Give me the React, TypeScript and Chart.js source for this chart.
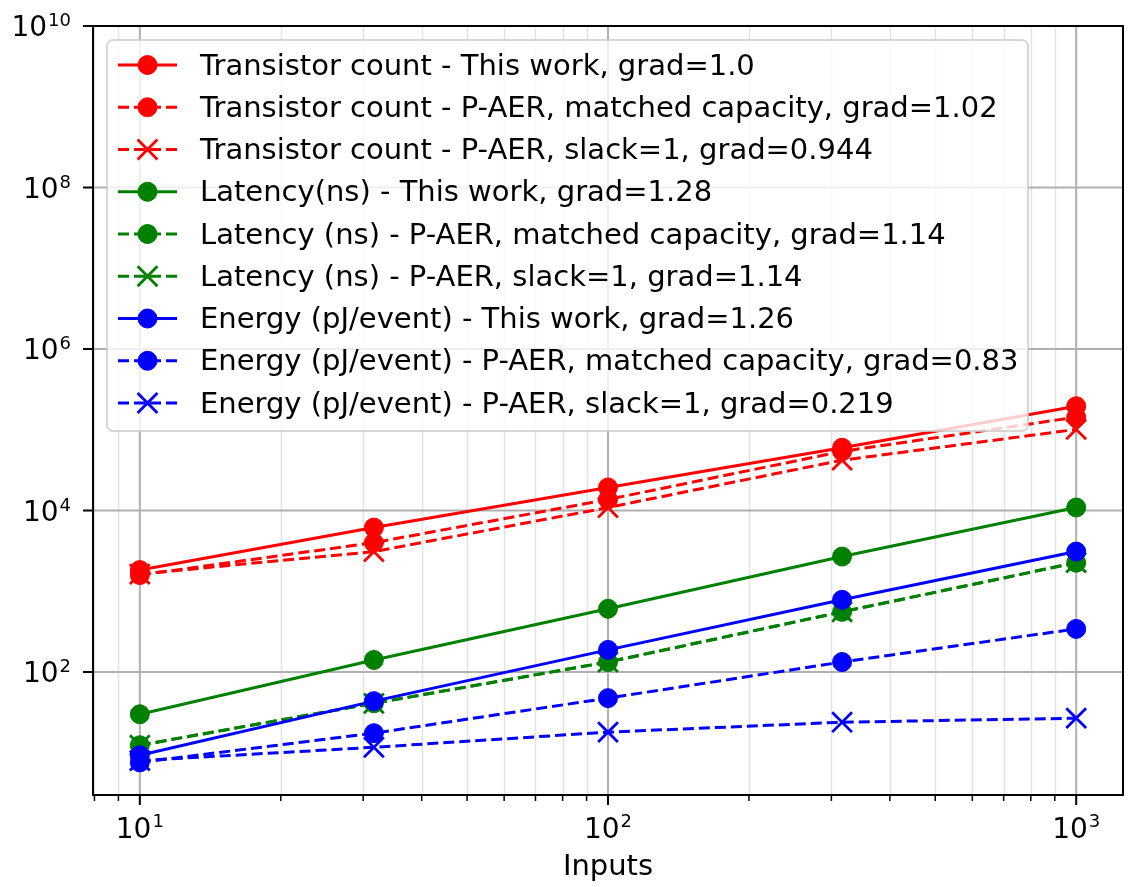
import React, { useEffect, useRef } from 'react';
import { Chart, registerables } from 'chart.js';

Chart.register(...registerables);

// ---------------- data ----------------
const inputs = [10, 31.62, 100, 316.2, 1000];

const transistorThisWork = [1830, 6150, 19300, 60000, 196000];
const transistorMatched = [1590, 4000, 13700, 54000, 143000];
const transistorSlack = [1635, 3100, 10900, 42000, 101000];
const latencyThisWork = [30, 141, 607, 2690, 10900];
const latencyMatched = [12.4, 41, 133, 556, 2260];
const latencySlack = [12.4, 41, 133, 556, 2260];
const energyThisWork = [9.3, 43.6, 188, 784, 3100];
const energyMatched = [7.6, 17.5, 47.5, 133, 342];
const energySlack = [8, 11.7, 18, 23.9, 26.8];

const seriesLabels = [
  'Transistor count - This work, grad=1.0',
  'Transistor count - P-AER, matched capacity, grad=1.02',
  'Transistor count - P-AER, slack=1, grad=0.944',
  'Latency(ns) - This work, grad=1.28',
  'Latency (ns) - P-AER, matched capacity, grad=1.14',
  'Latency (ns) - P-AER, slack=1, grad=1.14',
  'Energy (pJ/event) - This work, grad=1.26',
  'Energy (pJ/event) - P-AER, matched capacity, grad=0.83',
  'Energy (pJ/event) - P-AER, slack=1, grad=0.219',
];
const seriesValues = [
  transistorThisWork, transistorMatched, transistorSlack,
  latencyThisWork, latencyMatched, latencySlack,
  energyThisWork, energyMatched, energySlack,
];
const seriesColors = ['#ff0000', '#ff0000', '#ff0000', '#008000', '#008000', '#008000', '#0000ff', '#0000ff', '#0000ff'];
const seriesDashed = [false, true, true, false, true, true, false, true, true];
const seriesMarker = ['o', 'o', 'x', 'o', 'o', 'x', 'o', 'o', 'x'];

const xMajorExps = [1, 2, 3];
const yMajorExps = [2, 4, 6, 8, 10];
const xLimits = [7.943, 1258.9];
const yLimits = [3.0, 1e10];
const xTitle = 'Inputs';

const FONT = '"DejaVu Sans", "Liberation Sans", sans-serif';
const DASH = [11, 5];
const LW = 3;
const CIRCLE_R = 9.5;
const CROSS_R = 14;
const W = 1133;
const H = 887;

function drawMarker(ctx: CanvasRenderingContext2D, kind: string, x: number, y: number, color: string) {
  ctx.save();
  ctx.setLineDash([]);
  ctx.fillStyle = color;
  ctx.strokeStyle = color;
  if (kind === 'o') {
    ctx.lineWidth = 1;
    ctx.beginPath();
    ctx.arc(x, y, CIRCLE_R, 0, Math.PI * 2);
    ctx.fill();
    ctx.stroke();
  } else {
    const d = CROSS_R * Math.SQRT1_2;
    ctx.lineWidth = 2.8;
    ctx.beginPath();
    ctx.moveTo(x - d, y - d);
    ctx.lineTo(x + d, y + d);
    ctx.moveTo(x + d, y - d);
    ctx.lineTo(x - d, y + d);
    ctx.stroke();
  }
  ctx.restore();
}

const decorPlugin = {
  id: 'decor',
  beforeDatasetsDraw(chart: any) {
    const { ctx, chartArea: a, scales } = chart;
    const xs = scales.x;
    const ys = scales.y;
    ctx.save();
    ctx.beginPath();
    ctx.rect(a.left, a.top, a.right - a.left, a.bottom - a.top);
    ctx.clip();
    ctx.strokeStyle = '#e3e3e3';
    ctx.lineWidth = 1.5;
    for (let e = 0; e <= 3; e++) {
      for (let m = 2; m <= 9; m++) {
        const v = m * Math.pow(10, e);
        if (v < xLimits[0] || v > xLimits[1]) continue;
        const px = Math.round(xs.getPixelForValue(v)) + 0.5;
        ctx.beginPath();
        ctx.moveTo(px, a.top);
        ctx.lineTo(px, a.bottom);
        ctx.stroke();
      }
    }
    ctx.strokeStyle = '#b0b0b0';
    ctx.lineWidth = 2;
    for (const e of xMajorExps) {
      const px = xs.getPixelForValue(Math.pow(10, e));
      ctx.beginPath();
      ctx.moveTo(px, a.top);
      ctx.lineTo(px, a.bottom);
      ctx.stroke();
    }
    for (const e of yMajorExps) {
      const py = ys.getPixelForValue(Math.pow(10, e));
      ctx.beginPath();
      ctx.moveTo(a.left, py);
      ctx.lineTo(a.right, py);
      ctx.stroke();
    }
    ctx.restore();
  },
  afterDraw(chart: any) {
    const { ctx, chartArea: a, scales } = chart;
    const xs = scales.x;
    const ys = scales.y;
    ctx.save();
    ctx.strokeStyle = '#000';
    ctx.lineWidth = 2;
    ctx.setLineDash([]);
    ctx.strokeRect(a.left, a.top, a.right - a.left, a.bottom - a.top);

    ctx.lineWidth = 2;
    for (const e of xMajorExps) {
      const px = xs.getPixelForValue(Math.pow(10, e));
      ctx.beginPath();
      ctx.moveTo(px, a.bottom);
      ctx.lineTo(px, a.bottom + 10);
      ctx.stroke();
    }
    ctx.lineWidth = 1.5;
    for (let e = 0; e <= 3; e++) {
      for (let m = 2; m <= 9; m++) {
        const v = m * Math.pow(10, e);
        if (v < xLimits[0] || v > xLimits[1]) continue;
        const px = xs.getPixelForValue(v);
        ctx.beginPath();
        ctx.moveTo(px, a.bottom);
        ctx.lineTo(px, a.bottom + 6);
        ctx.stroke();
      }
    }
    ctx.lineWidth = 2;
    for (const e of yMajorExps) {
      const py = ys.getPixelForValue(Math.pow(10, e));
      ctx.beginPath();
      ctx.moveTo(a.left, py);
      ctx.lineTo(a.left - 10, py);
      ctx.stroke();
    }

    ctx.fillStyle = '#000';
    ctx.textBaseline = 'alphabetic';
    ctx.textAlign = 'left';
    const baseFont = `28px ${FONT}`;
    const supFont = `18px ${FONT}`;
    const legendFont = `29px ${FONT}`;
    for (const e of xMajorExps) {
      const px = xs.getPixelForValue(Math.pow(10, e));
      ctx.font = baseFont;
      const wb = ctx.measureText('10').width;
      ctx.font = supFont;
      const ws = ctx.measureText(String(e)).width;
      const x0 = px - (wb + ws + 1) / 2;
      ctx.font = baseFont;
      ctx.fillText('10', x0, a.bottom + 43);
      ctx.font = supFont;
      ctx.fillText(String(e), x0 + wb + 1, a.bottom + 32);
    }
    for (const e of yMajorExps) {
      const py = ys.getPixelForValue(Math.pow(10, e));
      ctx.font = baseFont;
      const wb = ctx.measureText('10').width;
      ctx.font = supFont;
      const ws = ctx.measureText(String(e)).width;
      const xr = a.left - 22;
      const x0 = xr - ws - 1 - wb;
      ctx.font = baseFont;
      ctx.fillText('10', x0, py + 10);
      ctx.font = supFont;
      ctx.fillText(String(e), x0 + wb + 1, py);
    }

    ctx.font = legendFont;
    ctx.textAlign = 'center';
    ctx.fillText(xTitle, (a.left + a.right) / 2, a.bottom + 80);

    // legend
    const lx = a.left + 14;
    const ly = a.top + 14;
    const lw = 921;
    const lh = 391;
    const r = 6;
    ctx.beginPath();
    ctx.moveTo(lx + r, ly);
    ctx.lineTo(lx + lw - r, ly);
    ctx.arcTo(lx + lw, ly, lx + lw, ly + r, r);
    ctx.lineTo(lx + lw, ly + lh - r);
    ctx.arcTo(lx + lw, ly + lh, lx + lw - r, ly + lh, r);
    ctx.lineTo(lx + r, ly + lh);
    ctx.arcTo(lx, ly + lh, lx, ly + lh - r, r);
    ctx.lineTo(lx, ly + r);
    ctx.arcTo(lx, ly, lx + r, ly, r);
    ctx.closePath();
    ctx.fillStyle = 'rgba(255,255,255,0.8)';
    ctx.fill();
    ctx.strokeStyle = 'rgba(204,204,204,0.8)';
    ctx.lineWidth = 2;
    ctx.stroke();

    ctx.textAlign = 'left';
    ctx.textBaseline = 'middle';
    for (let i = 0; i < seriesLabels.length; i++) {
      const cy = ly + 25 + i * 42.25;
      const color = seriesColors[i];
      ctx.strokeStyle = color;
      ctx.lineWidth = LW;
      ctx.setLineDash(seriesDashed[i] ? DASH : []);
      ctx.beginPath();
      ctx.moveTo(lx + 11, cy);
      ctx.lineTo(lx + 70, cy);
      ctx.stroke();
      ctx.setLineDash([]);
      drawMarker(ctx, seriesMarker[i], lx + 40.5, cy, color);
      ctx.fillStyle = '#000';
      ctx.font = legendFont;
      ctx.fillText(seriesLabels[i], lx + 93, cy + 2);
    }
    ctx.restore();
  },
};

export default function App() {
  const canvasRef = useRef<HTMLCanvasElement | null>(null);

  useEffect(() => {
    document.documentElement.style.overflow = 'hidden';
    document.body.style.overflow = 'hidden';
    document.body.style.margin = '0';
    const canvas = canvasRef.current;
    if (!canvas) return;
    const datasets = seriesLabels.map((label, i) => ({
      label,
      data: inputs.map((x, j) => ({ x, y: seriesValues[i][j] })),
      borderColor: seriesColors[i],
      backgroundColor: seriesColors[i],
      borderWidth: LW,
      borderDash: seriesDashed[i] ? DASH : [],
      pointStyle: seriesMarker[i] === 'o' ? 'circle' : 'crossRot',
      pointRadius: seriesMarker[i] === 'o' ? CIRCLE_R : CROSS_R,
      pointBorderWidth: seriesMarker[i] === 'o' ? 1 : 2.8,
      pointBackgroundColor: seriesColors[i],
      pointBorderColor: seriesColors[i],
      pointHoverRadius: seriesMarker[i] === 'o' ? CIRCLE_R : CROSS_R,
      fill: false,
      tension: 0,
      order: seriesLabels.length - i,
      clip: false as any,
    }));
    const chart = new Chart(canvas, {
      type: 'line',
      data: { datasets },
      options: {
        responsive: false,
        devicePixelRatio: 1,
        animation: false,
        layout: { autoPadding: false, padding: { left: 93, right: 10, top: 26, bottom: 92 } },
        plugins: {
          legend: { display: false },
          tooltip: { enabled: false },
        },
        scales: {
          x: { type: 'logarithmic', min: xLimits[0], max: xLimits[1], display: false },
          y: { type: 'logarithmic', min: yLimits[0], max: yLimits[1], display: false },
        },
      },
      plugins: [decorPlugin],
    });
    return () => chart.destroy();
  }, []);

  return (
    <div style={{ position: 'fixed', left: 0, top: 0, width: W, height: H, background: '#fff', overflow: 'hidden' }}>
      <canvas ref={canvasRef} width={W} height={H} style={{ width: W, height: H, display: 'block' }} />
    </div>
  );
}
